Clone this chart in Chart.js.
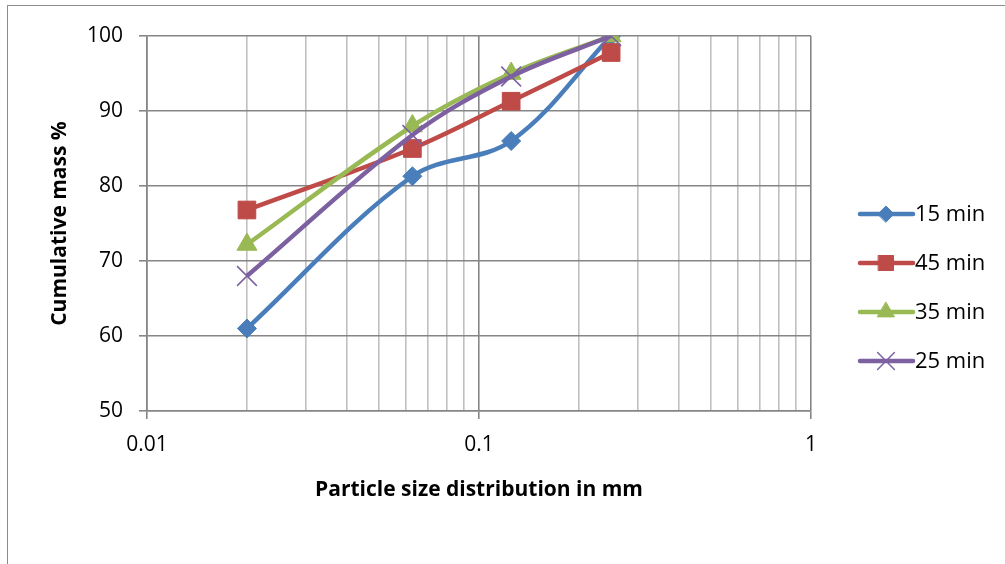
<!DOCTYPE html>
<html lang="en">
<head>
  <meta charset="UTF-8" />
  <title>Cumulative mass vs particle size</title>
  <script src="https://cdn.jsdelivr.net/npm/chart.js"></script>
  <style>
    body {
      margin: 0;
      background: white;
      font-family: 'Open Sans', sans-serif;
    }
    .wrap {
      position: relative;
      width: 1005px;
      height: 564px;
    }
    .frame {
      position: absolute;
      left: 7px;
      top: 5px;
      right: -2px;
      bottom: -2px;
      border-left: 1.5px solid #8c8c8c;
      border-top: 1.5px solid #8c8c8c;
    }
  </style>
</head>
<body>
  <div class="wrap">
    <div class="frame"></div>
    <canvas id="psdChart"></canvas>
  </div>

  <script>
    // particle sizes (mm) and cumulative mass % for each milling time
    const sizes = [0.02, 0.063, 0.125, 0.25];
    const min15 = [61.0, 81.3, 86.0, 100];
    const min45 = [76.8, 85.0, 91.3, 97.8];
    const min35 = [72.2, 88.0, 95.0, 100];
    const min25 = [68.0, 86.8, 94.6, 100];

    const seriesNames = ['15 min', '45 min', '35 min', '25 min'];
    const xLabels = [0.01, 0.1, 1];
    const yTicks = [50, 60, 70, 80, 90, 100];

    // log gridlines: 1..9 within each decade
    const xGrid = [];
    for (let d = 0; d < xLabels.length - 1; d++) {
      for (let k = 1; k < 10; k++) xGrid.push(+(xLabels[d] * k).toPrecision(3));
    }
    xGrid.push(xLabels[xLabels.length - 1]);

    const isMajor = v => xLabels.some(m => Math.abs(m - v) < 1e-9);

    const styles = [
      { color: '#4a7ebb', point: 'rectRot', radius: 9.5, bw: 1 },
      { color: '#be4b48', point: 'rect', radius: 12.5, bw: 1 },
      { color: '#98b954', point: 'triangle', radius: 11.5, bw: 1 },
      { color: '#7d60a0', point: 'crossRot', radius: 14, bw: 1.5 }
    ];

    const makeSet = (label, values, i) => ({
      label: label,
      data: sizes.map((s, j) => ({ x: s, y: values[j] })),
      borderColor: styles[i].color,
      backgroundColor: styles[i].color,
      borderWidth: 4.5,
      tension: 0.35,
      pointStyle: styles[i].point,
      pointRadius: styles[i].radius,
      pointBackgroundColor: styles[i].color,
      pointBorderColor: styles[i].color,
      pointBorderWidth: styles[i].bw,
      order: 4 - i
    });

    const datasets = [min15, min45, min35, min25].map((v, i) => makeSet(seriesNames[i], v, i));

    // legend on the right: line sample with marker, then label
    const sideLegend = {
      id: 'sideLegend',
      afterDraw(chart) {
        const ctx = chart.ctx;
        chart.data.datasets.forEach((ds, i) => {
          const y = 214 + i * 49;
          ctx.save();
          ctx.strokeStyle = ds.borderColor;
          ctx.lineWidth = 4.5;
          ctx.lineCap = 'round';
          ctx.beginPath();
          ctx.moveTo(860, y);
          ctx.lineTo(913, y);
          ctx.stroke();
          ctx.fillStyle = ds.pointBackgroundColor;
          ctx.strokeStyle = ds.pointBorderColor;
          ctx.lineWidth = ds.pointBorderWidth;
          Chart.helpers.drawPoint(ctx, {
            pointStyle: ds.pointStyle,
            radius: ds.pointRadius * 0.85,
            rotation: 0,
            borderWidth: ds.pointBorderWidth
          }, 886, y);
          ctx.fillStyle = '#000';
          ctx.font = '22px "Open Sans"';
          ctx.textBaseline = 'middle';
          ctx.fillText(ds.label, 915, y + 1);
          ctx.restore();
        });
      }
    };

    new Chart(document.getElementById('psdChart'), {
      type: 'line',
      data: { datasets: datasets },
      plugins: [sideLegend],
      options: {
        responsive: true,
        maintainAspectRatio: false,
        animation: false,
        layout: { padding: { left: 0, top: 36, right: 194, bottom: 0 } },
        plugins: {
          legend: { display: false },
          tooltip: { enabled: false }
        },
        scales: {
          x: {
            type: 'logarithmic',
            min: 0.01,
            max: 1,
            afterBuildTicks: scale => {
              scale.ticks = xGrid.map(v => ({ value: v }));
            },
            afterFit: scale => { scale.height = 153; },
            ticks: {
              autoSkip: false,
              maxRotation: 0,
              padding: 13,
              color: '#000',
              font: { family: 'Open Sans', size: 21 },
              callback: v => isMajor(v) ? String(v) : ''
            },
            grid: {
              color: ctx => isMajor(ctx.tick.value) ? '#868686' : '#c0c0c0',
              lineWidth: 1.6,
              tickLength: 8,
              tickColor: ctx => isMajor(ctx.tick.value) ? '#868686' : 'rgba(0,0,0,0)'
            },
            border: { color: '#868686', width: 1.6 },
            title: {
              display: true,
              text: 'Particle size distribution in mm',
              color: '#000',
              font: { family: 'Open Sans', size: 21, weight: 'bold' },
              padding: { top: 0, bottom: 61 }
            }
          },
          y: {
            min: 50,
            max: 100,
            afterBuildTicks: scale => {
              scale.ticks = yTicks.map(v => ({ value: v }));
            },
            afterFit: scale => { scale.width = 147; },
            ticks: {
              padding: 16,
              color: '#000',
              font: { family: 'Open Sans', size: 21 }
            },
            grid: {
              color: '#868686',
              lineWidth: 1.6,
              tickLength: 8,
              tickColor: '#868686'
            },
            border: { color: '#868686', width: 1.6 },
            title: {
              display: true,
              text: 'Cumulative mass %',
              color: '#000',
              font: { family: 'Open Sans', size: 21, weight: 'bold' },
              padding: { top: 47, bottom: 0 }
            }
          }
        }
      }
    });
  </script>
</body>
</html>
